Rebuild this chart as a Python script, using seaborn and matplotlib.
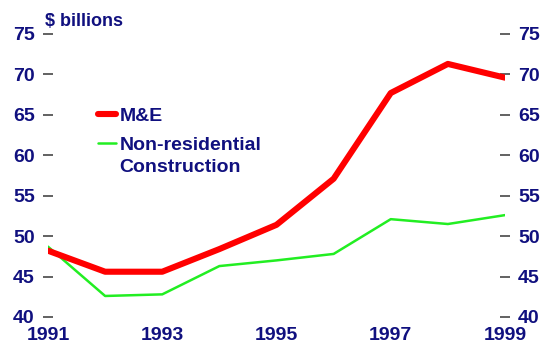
import matplotlib
matplotlib.use("Agg")
import matplotlib.pyplot as plt
import seaborn as sns
import pandas as pd

years = [1991, 1992, 1993, 1994, 1995, 1996, 1997, 1998, 1999]
me_values = [48.2, 45.6, 45.6, 48.4, 51.4, 57.1, 67.7, 71.3, 69.6]
nonres_values = [48.7, 42.6, 42.8, 46.3, 47.0, 47.8, 52.1, 51.5, 52.6]
series_names = ["M&E", "Non-residential Construction"]
legend_lines = ["M&E", "Non-residential", "Construction"]
x_ticks = [1991, 1993, 1995, 1997, 1999]
y_ticks = [40, 45, 50, 55, 60, 65, 70, 75]

NAVY = "#10107f"
TICK_GREY = "#555555"

sns.set_theme(style="white")
plt.rcParams["font.family"] = ["Liberation Sans", "DejaVu Sans"]
plt.rcParams["font.weight"] = "bold"

df = pd.DataFrame({
    "year": years * 2,
    "value": me_values + nonres_values,
    "series": [series_names[0]] * len(years) + [series_names[1]] * len(years),
})

fig = plt.figure(figsize=(5.40, 3.43), dpi=100)
ax = fig.add_axes([48 / 540, 26 / 343, 457 / 540, 283 / 343])

sns.lineplot(data=df[df.series == series_names[1]], x="year", y="value",
             color="#22ee22", linewidth=1.8, ax=ax, legend=False)
sns.lineplot(data=df[df.series == series_names[0]], x="year", y="value",
             color="#ff0000", linewidth=4.4, ax=ax, legend=False)

ax.set_xlim(1991, 1999)
ax.set_ylim(40, 75)
ax.set_xticks(x_ticks)
ax.set_xticklabels([str(t) for t in x_ticks])
ax.set_yticks(y_ticks)
ax.set_xlabel("")
ax.set_ylabel("")
for s in ax.spines.values():
    s.set_visible(False)

ax.tick_params(axis="y", which="both", left=True, right=True,
               labelleft=True, labelright=True, direction="inout",
               length=7, width=1.3, color=TICK_GREY, pad=6,
               labelsize=14, labelcolor=NAVY)
ax.tick_params(axis="x", length=0, pad=7, labelsize=14, labelcolor=NAVY)
for lab in ax.get_xticklabels() + ax.get_yticklabels():
    lab.set_fontweight("bold")
for t in ax.yaxis.get_major_ticks():
    t.label2.set_fontweight("bold")

fig.text(45 / 540, 1 - 21 / 343, "$ billions", color=NAVY, fontsize=13,
         fontweight="bold", ha="left", va="center")

# legend: first two rows carry the line samples, the wrapped word sits below
handles = [ax.lines[1], ax.lines[0]]
leg = ax.legend(handles, legend_lines[:2], loc="upper left",
                bbox_to_anchor=((98 - 48) / 457, 1 - (107 - 34) / 283),
                frameon=False, handlelength=0.95, handletextpad=0.15,
                labelspacing=0.6, borderaxespad=0, borderpad=0,
                prop={"size": 14, "weight": "bold"})
for txt in leg.get_texts():
    txt.set_color(NAVY)
fig.text(119 / 540, 1 - 167 / 343, legend_lines[2], color=NAVY,
         fontsize=14, fontweight="bold", ha="left", va="center")

fig.savefig("out.png", dpi=100, facecolor="white")
